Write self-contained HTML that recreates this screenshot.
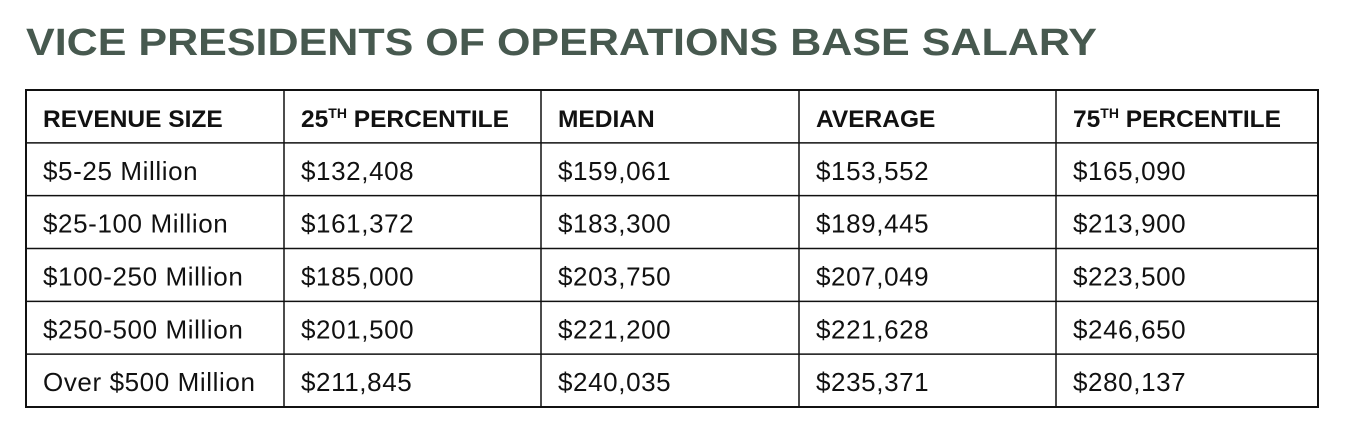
<!DOCTYPE html>
<html><head><meta charset="utf-8"><style>
html,body{margin:0;padding:0;background:#fff;width:1354px;height:436px;overflow:hidden}
svg{display:block}
</style></head><body>
<svg id="s" width="1354" height="436" xmlns="http://www.w3.org/2000/svg">
<text x="26" y="55" font-family="Liberation Sans, sans-serif" font-weight="bold" font-size="38" fill="#47594f" textLength="1071" lengthAdjust="spacingAndGlyphs">VICE PRESIDENTS OF OPERATIONS BASE SALARY</text>
</svg>
<script>
const categories = ["$5-25 Million","$25-100 Million","$100-250 Million","$250-500 Million","Over $500 Million"];
const p25 = ["$132,408","$161,372","$185,000","$201,500","$211,845"];
const median = ["$159,061","$183,300","$203,750","$221,200","$240,035"];
const average = ["$153,552","$189,445","$207,049","$221,628","$235,371"];
const p75 = ["$165,090","$213,900","$223,500","$246,650","$280,137"];
const NS="http://www.w3.org/2000/svg";
const svg=document.getElementById('s');
const colX=[26,284,541,799,1056,1318];
const top0=90,nRows=categories.length+1,bottom=407;
function rowY(i){return top0+i*(bottom-top0)/nRows;}
function line(x1,y1,x2,y2,w){
  const l=document.createElementNS(NS,'line');
  l.setAttribute('x1',x1);l.setAttribute('y1',y1);l.setAttribute('x2',x2);l.setAttribute('y2',y2);
  l.setAttribute('stroke','#111');l.setAttribute('stroke-width',w);
  
  
  svg.appendChild(l);
}
for(let i=0;i<=nRows;i++) line(colX[0]-1,rowY(i),colX[5]+1,rowY(i),(i==0||i==nRows)?2:1.5);
for(let j=0;j<colX.length;j++) line(colX[j],top0,colX[j],bottom,(j==0||j==5)?2:1.5);
function txt(x,y,s,bold,name){
  const t=document.createElementNS(NS,'text');
  t.setAttribute('x',x);t.setAttribute('y',y);
  t.setAttribute('font-family','Liberation Sans, sans-serif');
  t.setAttribute('fill','#111');
  if(bold){t.setAttribute('font-weight','bold');t.setAttribute('font-size','24.5');}
  else{t.setAttribute('font-size','26');t.setAttribute('letter-spacing','0.6');}
  
  
  if(Array.isArray(s)){
    s.forEach(p=>{const ts=document.createElementNS(NS,'tspan');ts.textContent=p[0];
      if(p[1]){ts.setAttribute('font-size','14');ts.setAttribute('dy','-9');}
      else if(p[2]){ts.setAttribute('dy','9');}
      t.appendChild(ts);});
  } else t.textContent=s;
  svg.appendChild(t);
}
const headers=["REVENUE SIZE",[["25"],["TH",1],[" PERCENTILE",0,1]],"MEDIAN","AVERAGE",[["75"],["TH",1],[" PERCENTILE",0,1]]];
const hNames=["header-revenue-size","header-25th-percentile","header-median","header-average","header-75th-percentile"];
headers.forEach((h,j)=>txt(colX[j]+17,rowY(0)+37,h,true,hNames[j]));
const cols=[categories,p25,median,average,p75];
const cNames=["revenue-size-cell","p25-cell","median-cell","average-cell","p75-cell"];
for(let i=0;i<categories.length;i++){
  cols.forEach((c,j)=>txt(colX[j]+17,rowY(i+1)+37,c[i],false,cNames[j]));
}
</script>
</body></html>
